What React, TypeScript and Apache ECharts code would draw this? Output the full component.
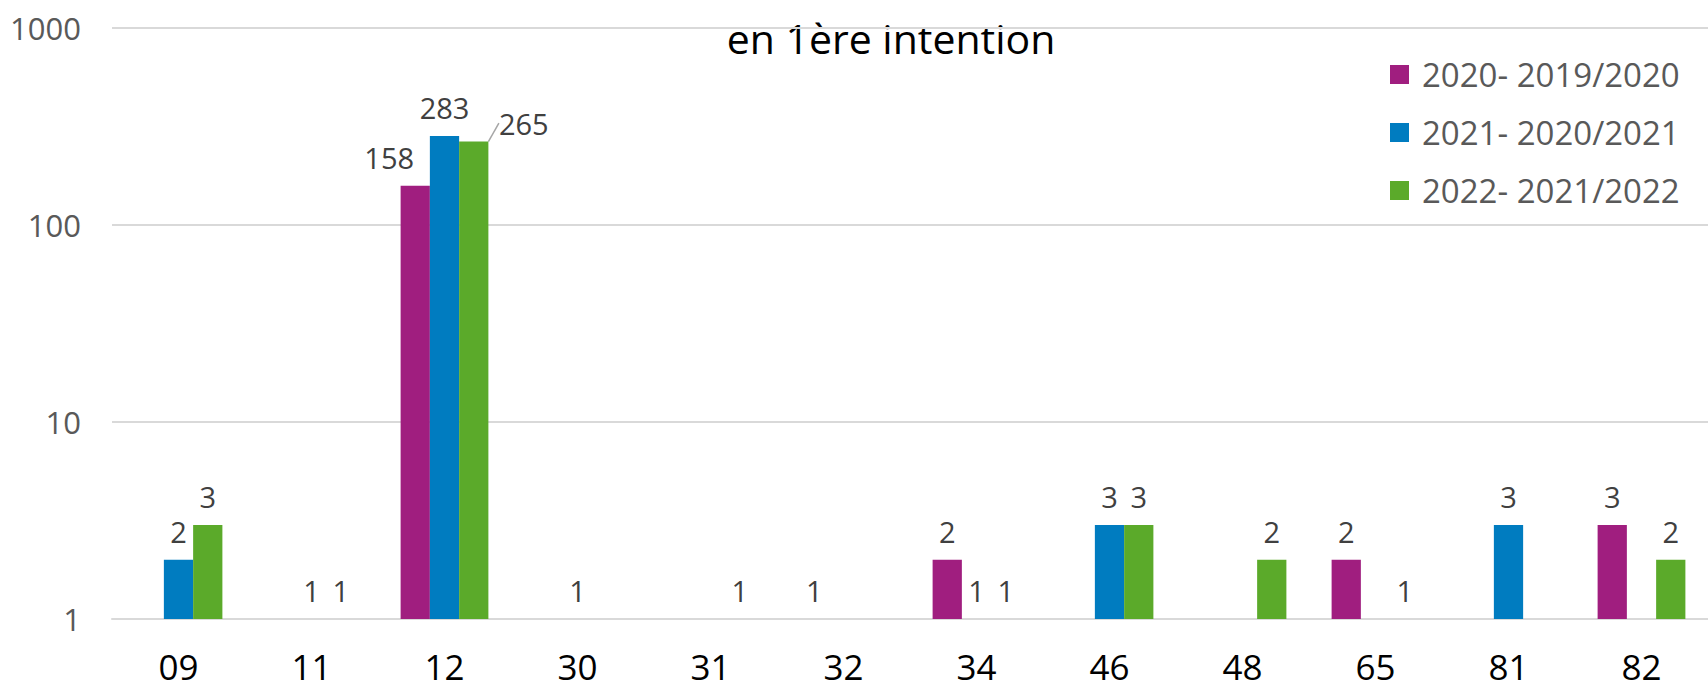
import React, { useEffect, useRef } from "react";
import * as echarts from "echarts";

const categories = ["09", "11", "12", "30", "31", "32", "34", "46", "48", "65", "81", "82"];
const seriesNames = ["2020- 2019/2020", "2021- 2020/2021", "2022- 2021/2022"];
const s2020: (number | null)[] = [null, null, 158, null, null, 1, 2, null, null, 2, null, 3];
const s2021: (number | null)[] = [2, 1, 283, 1, null, null, 1, 3, null, null, 3, null];
const s2022: (number | null)[] = [3, 1, 265, null, 1, null, 1, 3, 2, 1, null, 2];
const colors = ["#A01E7F", "#007CC0", "#5BAA2A"];
const titleText = "en 1ère intention";

const FONT = "'Open Sans', 'Noto Sans', sans-serif";

export default function App() {
  const ref = useRef<HTMLDivElement>(null);
  useEffect(() => {
    document.body.style.margin = "0";
    const chart = echarts.init(ref.current!, null, { renderer: "svg" });
    const labelStyle = {
      show: true,
      position: "top" as const,
      distance: 14,
      color: "#404040",
      fontSize: 29,
      fontFamily: FONT,
    };
    const all = [s2020, s2021, s2022];
    chart.setOption({
      animation: false,
      backgroundColor: "#ffffff",
      textStyle: { fontFamily: FONT },
      graphic: [
        {
          type: "text",
          x: 891,
          y: 38,
          style: {
            text: titleText,
            fill: "#000000",
            fontSize: 41,
            fontFamily: FONT,
            textAlign: "center",
            textVerticalAlign: "middle",
          },
        },
      ],
      legend: {
        orient: "vertical",
        left: 1385,
        top: 53,
        itemWidth: 19,
        itemHeight: 19,
        itemGap: 25,
        icon: "rect",
        data: seriesNames,
        textStyle: { color: "#595959", fontSize: 33, fontFamily: FONT, padding: [0, 0, 0, 8] },
      },
      grid: { left: 112, right: 0, top: 28, bottom: 74 },
      xAxis: {
        type: "category",
        data: categories,
        axisLine: { show: true, lineStyle: { color: "#D9D9D9", width: 2 } },
        axisTick: { show: false },
        axisLabel: { color: "#000000", fontSize: 35, margin: 30, fontFamily: FONT },
      },
      yAxis: {
        type: "log",
        logBase: 10,
        min: 1,
        max: 1000,
        axisLine: { show: false },
        axisTick: { show: false },
        splitLine: { lineStyle: { color: "#D9D9D9", width: 2 } },
        axisLabel: {
          color: "#595959",
          fontSize: 31,
          margin: 31,
          fontFamily: FONT,
          formatter: (v: number) => String(v),
        },
      },
      series: all.map((data, i) => ({
        name: seriesNames[i],
        type: "bar",
        data: data.map((v, j) =>
          i === 2 && j === 2
            ? { value: v, labelLine: { show: true, lineStyle: { color: "#A6A6A6", width: 1.5 } } }
            : v
        ),
        barGap: "0%",
        barCategoryGap: "34%",
        itemStyle: { color: colors[i] },
        label: labelStyle,
        labelLine: { show: false },
        labelLayout: (p: any) => {
          if (p.dataIndex === 2 && i === 0) return { dx: -26, dy: 0 };
          if (p.dataIndex === 2 && i === 2) return { dx: 50, dy: 10 };
          return {};
        },
      })),
    });
    return () => chart.dispose();
  }, []);
  return <div ref={ref} style={{ position: "absolute", left: 0, top: 0, width: 1708, height: 693 }} />;
}
